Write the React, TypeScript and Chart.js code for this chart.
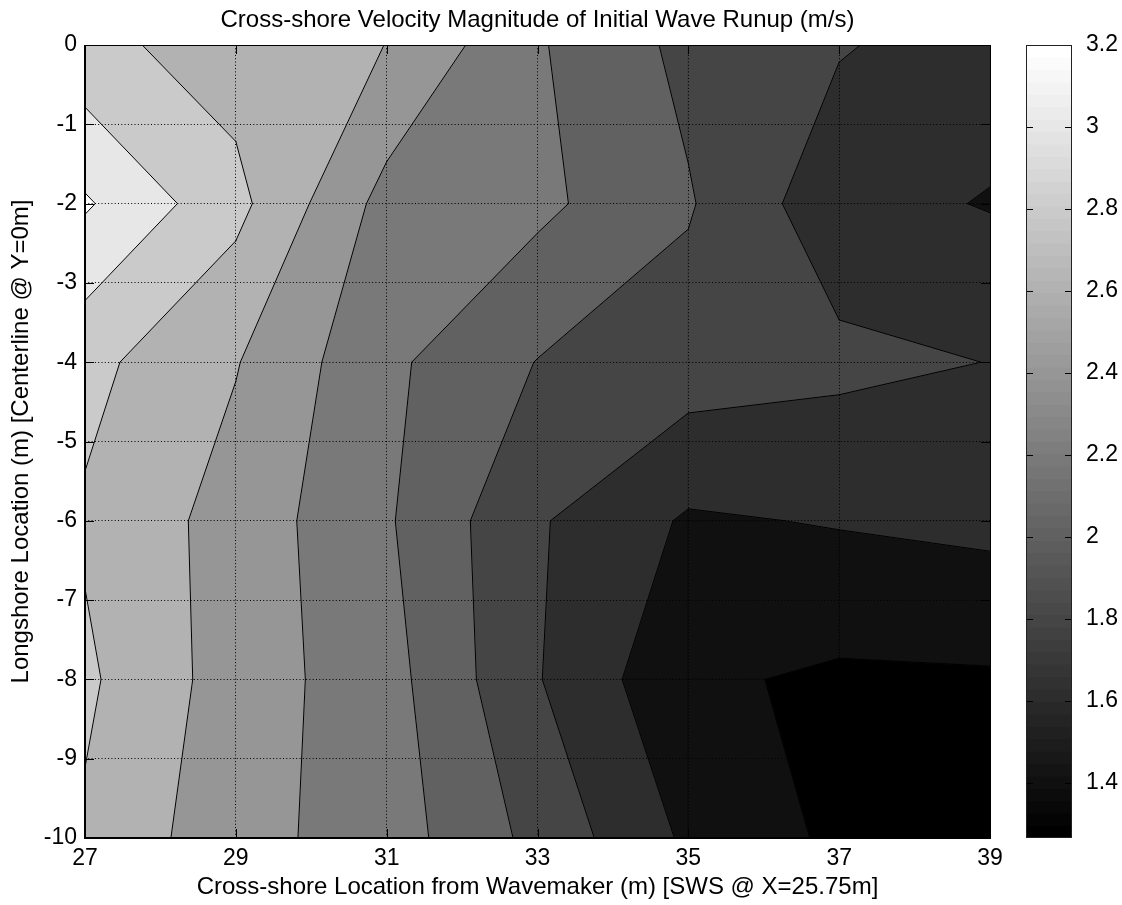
import React, { useEffect, useRef } from 'react';
import { Chart, registerables } from 'chart.js';

Chart.register(...registerables);

const FONT_FAMILY = "'Liberation Sans', Arial, Helvetica, sans-serif";
const TICK_FONT_SIZE = 23;
const LABEL_FONT_SIZE = 24;

const TITLE = 'Cross-shore Velocity Magnitude of Initial Wave Runup (m/s)';
const X_LABEL = 'Cross-shore Location from Wavemaker (m) [SWS @ X=25.75m]';
const Y_LABEL = 'Longshore Location (m) [Centerline @ Y=0m]';

// measurement grid (x across, y along-shore)
const X_VALUES = [27, 29, 31, 33, 35, 37, 39];
const Y_VALUES = [0, -2, -4, -6, -8, -10];

// velocity magnitude (m/s), one row per Y value
const Z_AT_Y0 = [2.855, 2.71, 2.598, 2.22, 1.947, 1.816, 1.702];
const Z_AT_Y2 = [3.225, 2.858, 2.329, 2.247, 2.018, 1.668, 1.588];
const Z_AT_Y4 = [2.857, 2.611, 2.241, 1.994, 1.906, 1.848, 1.797];
const Z_AT_Y6 = [2.774, 2.52, 2.223, 1.821, 1.575, 1.614, 1.653];
const Z_AT_Y8 = [2.835, 2.506, 2.276, 1.812, 1.434, 1.367, 1.377];
const Z_AT_Y10 = [2.772, 2.47, 2.3, 1.942, 1.565, 1.36, 1.27];
const Z_GRID = [Z_AT_Y0, Z_AT_Y2, Z_AT_Y4, Z_AT_Y6, Z_AT_Y8, Z_AT_Y10];

const LEVELS = [1.4, 1.6, 1.8, 2.0, 2.2, 2.4, 2.6, 2.8, 3.0, 3.2];
const COLOR_LIMITS = [1.266, 3.2];
const COLORMAP_SIZE = 64;

const X_TICKS = [27, 29, 31, 33, 35, 37, 39];
const Y_TICKS = [0, -1, -2, -3, -4, -5, -6, -7, -8, -9, -10];
const COLORBAR_TICKS = [1.4, 1.6, 1.8, 2, 2.2, 2.4, 2.6, 2.8, 3, 3.2];

type Pt = { x: number; y: number };
type VPt = Pt & { cross: boolean };

const gap = (): Pt => ({ x: NaN, y: NaN });

function grayOfIndex(index: number): string {
  const g = Math.round((index / (COLORMAP_SIZE - 1)) * 255);
  return `rgb(${g},${g},${g})`;
}

function colorForValue(v: number): string {
  const [lo, hi] = COLOR_LIMITS;
  let idx = Math.floor(((v - lo) / (hi - lo)) * COLORMAP_SIZE);
  idx = Math.max(0, Math.min(COLORMAP_SIZE - 1, idx));
  return grayOfIndex(idx);
}

// region z >= level inside one grid cell (linear interpolation on edges)
function cellRegion(i: number, j: number, level: number): VPt[] {
  const corners = [
    { x: X_VALUES[i], y: Y_VALUES[j], z: Z_GRID[j][i] },
    { x: X_VALUES[i + 1], y: Y_VALUES[j], z: Z_GRID[j][i + 1] },
    { x: X_VALUES[i + 1], y: Y_VALUES[j + 1], z: Z_GRID[j + 1][i + 1] },
    { x: X_VALUES[i], y: Y_VALUES[j + 1], z: Z_GRID[j + 1][i] },
  ];
  const out: VPt[] = [];
  for (let k = 0; k < 4; k++) {
    const a = corners[k];
    const b = corners[(k + 1) % 4];
    const aIn = a.z >= level;
    const bIn = b.z >= level;
    if (aIn) out.push({ x: a.x, y: a.y, cross: false });
    if (aIn !== bIn) {
      const t = (level - a.z) / (b.z - a.z);
      out.push({ x: a.x + t * (b.x - a.x), y: a.y + t * (b.y - a.y), cross: true });
    }
  }
  return out;
}

function buildContours() {
  const fills: { level: number; pts: Pt[] }[] = [];
  const lines: { level: number; pts: Pt[] }[] = [];
  for (const level of LEVELS) {
    const fillPts: Pt[] = [];
    const linePts: Pt[] = [];
    for (let j = 0; j < Y_VALUES.length - 1; j++) {
      for (let i = 0; i < X_VALUES.length - 1; i++) {
        const poly = cellRegion(i, j, level);
        if (poly.length < 3) continue;
        poly.forEach((p) => fillPts.push({ x: p.x, y: p.y }));
        fillPts.push({ x: poly[0].x, y: poly[0].y });
        fillPts.push(gap());
        const n = poly.length;
        for (let k = 0; k < n; k++) {
          const p = poly[k];
          const q = poly[(k + 1) % n];
          if (p.cross && q.cross) {
            linePts.push({ x: p.x, y: p.y }, { x: q.x, y: q.y }, gap());
          }
        }
      }
    }
    fills.push({ level, pts: fillPts });
    lines.push({ level, pts: linePts });
  }
  return { fills, lines };
}

const tickFont = { family: FONT_FAMILY, size: TICK_FONT_SIZE, weight: 'normal' as const };
const labelFont = { family: FONT_FAMILY, size: LABEL_FONT_SIZE, weight: 'normal' as const };

const mainFrame = {
  id: 'mainFrame',
  afterDraw(chart: any) {
    const { ctx, chartArea: ca } = chart;
    const xs = chart.scales.x;
    const ys = chart.scales.y;
    const T = 9;
    ctx.save();
    ctx.strokeStyle = '#000';
    ctx.lineWidth = 1;
    ctx.beginPath();
    X_TICKS.forEach((v) => {
      const px = Math.round(xs.getPixelForValue(v)) + 0.5;
      ctx.moveTo(px, ca.bottom);
      ctx.lineTo(px, ca.bottom - T);
      ctx.moveTo(px, ca.top);
      ctx.lineTo(px, ca.top + T);
    });
    Y_TICKS.forEach((v) => {
      const py = Math.round(ys.getPixelForValue(v)) + 0.5;
      ctx.moveTo(ca.left, py);
      ctx.lineTo(ca.left + T, py);
      ctx.moveTo(ca.right, py);
      ctx.lineTo(ca.right - T, py);
    });
    ctx.stroke();
    ctx.fillStyle = '#000';
    ctx.fillRect(ca.left, ca.top, ca.right - ca.left + 1, 1);
    ctx.fillRect(ca.right, ca.top, 1, ca.bottom - ca.top);
    ctx.fillRect(ca.left - 1, ca.top, 2, ca.bottom - ca.top + 1);
    ctx.fillRect(ca.left - 1, ca.bottom - 1, ca.right - ca.left + 2, 2);
    ctx.restore();
  },
};

const barFrame = {
  id: 'barFrame',
  afterDraw(chart: any) {
    const { ctx, chartArea: ca } = chart;
    const ys = chart.scales.y;
    const T = 7;
    ctx.save();
    ctx.strokeStyle = '#000';
    ctx.lineWidth = 1;
    ctx.beginPath();
    COLORBAR_TICKS.forEach((v) => {
      const py = Math.round(ys.getPixelForValue(v)) + 0.5;
      ctx.moveTo(ca.left, py);
      ctx.lineTo(ca.left + T, py);
      ctx.moveTo(ca.right, py);
      ctx.lineTo(ca.right - T, py);
    });
    ctx.stroke();
    ctx.strokeStyle = '#222';
    ctx.strokeRect(ca.left + 0.5, ca.top + 0.5, ca.right - ca.left - 1, ca.bottom - ca.top - 1);
    ctx.restore();
  },
};

function mainConfig(): any {
  const { fills, lines } = buildContours();
  const xMin = Math.min(...X_VALUES);
  const xMax = Math.max(...X_VALUES);
  const yMin = Math.min(...Y_VALUES);
  const yMax = Math.max(...Y_VALUES);
  const common = {
    pointRadius: 0,
    pointHoverRadius: 0,
    tension: 0,
    spanGaps: false,
    borderJoinStyle: 'round',
    borderCapStyle: 'round',
  };
  const baseColor = colorForValue(COLOR_LIMITS[0]);
  const datasets: any[] = [
    {
      ...common,
      data: [
        { x: xMin, y: yMax },
        { x: xMax, y: yMax },
        { x: xMax, y: yMin },
        { x: xMin, y: yMin },
        { x: xMin, y: yMax },
      ],
      fill: 'shape',
      backgroundColor: baseColor,
      borderColor: baseColor,
      borderWidth: 1,
      order: 100,
    },
  ];
  fills.forEach((f, k) => {
    const c = colorForValue(f.level);
    datasets.push({
      ...common,
      data: f.pts,
      fill: 'shape',
      backgroundColor: c,
      borderColor: c,
      borderWidth: 1,
      order: 90 - k,
    });
  });
  lines.forEach((l, k) => {
    datasets.push({
      ...common,
      data: l.pts,
      fill: false,
      borderColor: '#000',
      borderWidth: 1,
      order: 20 - k,
    });
  });

  return {
    type: 'line',
    data: { datasets },
    options: {
      animation: false,
      responsive: false,
      events: [],
      layout: { padding: { left: 0, right: 132, top: 0, bottom: 0 } },
      plugins: {
        legend: { display: false },
        tooltip: { enabled: false },
        title: {
          display: true,
          text: TITLE,
          fullSize: false,
          color: '#000',
          font: labelFont,
          padding: { top: 5.6, bottom: 10.6 },
        },
      },
      scales: {
        x: {
          type: 'linear',
          min: xMin,
          max: xMax,
          afterBuildTicks: (s: any) => {
            s.ticks = X_TICKS.map((value) => ({ value }));
          },
          afterFit: (s: any) => {
            s.height = 67;
          },
          ticks: {
            color: '#000',
            font: tickFont,
            padding: 7,
            maxRotation: 0,
            autoSkip: false,
            callback: (v: any) => String(v),
          },
          grid: { drawTicks: false, color: '#000', lineWidth: 1, z: 1 },
          border: { display: false, dash: [1, 2.3] },
          title: {
            display: true,
            text: X_LABEL,
            color: '#000',
            font: labelFont,
            padding: { top: 0, bottom: 2.9 },
          },
        },
        y: {
          type: 'linear',
          min: yMin,
          max: yMax,
          afterBuildTicks: (s: any) => {
            s.ticks = Y_TICKS.map((value) => ({ value }));
          },
          afterFit: (s: any) => {
            s.width = 85;
          },
          ticks: {
            color: '#000',
            font: tickFont,
            padding: 8,
            autoSkip: false,
            callback: (v: any) => String(v),
          },
          grid: { drawTicks: false, color: '#000', lineWidth: 1, z: 1 },
          border: { display: false, dash: [1, 2.3] },
          title: {
            display: true,
            text: Y_LABEL,
            color: '#000',
            font: labelFont,
            padding: { top: 6.6, bottom: 0 },
          },
        },
      },
    },
    plugins: [mainFrame],
  };
}

function colorbarConfig(): any {
  const [lo, hi] = COLOR_LIMITS;
  const step = (hi - lo) / COLORMAP_SIZE;
  const datasets: any[] = [];
  for (let k = 0; k < COLORMAP_SIZE; k++) {
    datasets.push({
      data: [[lo + k * step, hi]],
      backgroundColor: grayOfIndex(k),
      borderWidth: 0,
      grouped: false,
      barPercentage: 1,
      categoryPercentage: 1,
      order: COLORMAP_SIZE - k,
    });
  }
  return {
    type: 'bar',
    data: { labels: [''], datasets },
    options: {
      animation: false,
      responsive: false,
      events: [],
      layout: { padding: { left: 26, right: 0, top: 45, bottom: 67 } },
      plugins: {
        legend: { display: false },
        tooltip: { enabled: false },
        title: { display: false },
      },
      scales: {
        x: { display: false },
        y: {
          type: 'linear',
          position: 'right',
          min: lo,
          max: hi,
          afterBuildTicks: (s: any) => {
            s.ticks = COLORBAR_TICKS.map((value) => ({ value }));
          },
          afterFit: (s: any) => {
            s.width = 50;
          },
          ticks: {
            color: '#000',
            font: tickFont,
            padding: 6,
            autoSkip: false,
            callback: (v: any) => String(Math.round(Number(v) * 10) / 10),
          },
          grid: { display: false },
          border: { display: false },
        },
      },
    },
    plugins: [barFrame],
  };
}

export default function App() {
  const mainRef = useRef<HTMLCanvasElement>(null);
  const barRef = useRef<HTMLCanvasElement>(null);

  useEffect(() => {
    Chart.defaults.font.family = FONT_FAMILY;
    Chart.defaults.color = '#000';
    const main = new Chart(mainRef.current as HTMLCanvasElement, mainConfig());
    const bar = new Chart(barRef.current as HTMLCanvasElement, colorbarConfig());
    return () => {
      main.destroy();
      bar.destroy();
    };
  }, []);

  return (
    <div
      style={{
        position: 'absolute',
        left: 0,
        top: 0,
        width: 1122,
        height: 905,
        background: '#fff',
      }}
    >
      <canvas
        ref={mainRef}
        width={1122}
        height={905}
        style={{ position: 'absolute', left: 0, top: 0, width: 1122, height: 905 }}
      />
      <canvas
        ref={barRef}
        width={122}
        height={905}
        style={{ position: 'absolute', left: 1000, top: 0, width: 122, height: 905 }}
      />
    </div>
  );
}
